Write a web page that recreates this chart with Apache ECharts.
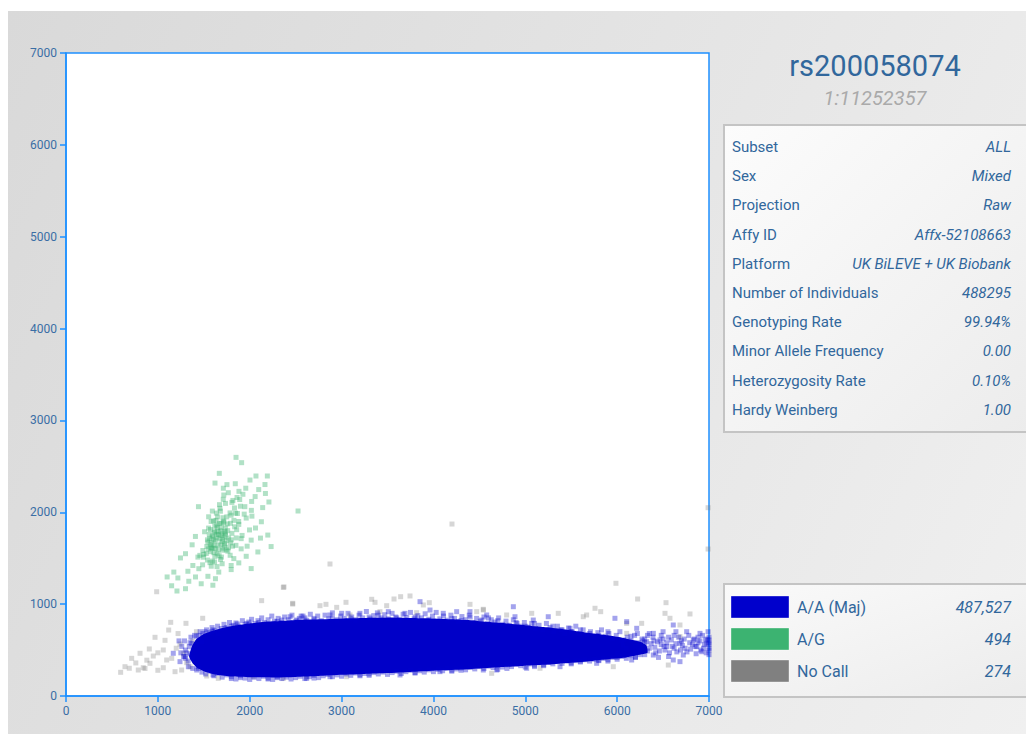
<!DOCTYPE html>
<html><head><meta charset="utf-8">
<script src="https://cdn.jsdelivr.net/npm/echarts@6/dist/echarts.min.js"></script>
<style>
html,body{margin:0;padding:0;background:#fff;width:1026px;height:734px;overflow:hidden}
#bg{position:absolute;left:8px;top:11px;width:1018px;height:723px;background:linear-gradient(115deg,#d9d9d9 0%,#e3e3e3 45%,#f0f0f0 100%)}
#chart{position:absolute;left:0;top:0;width:1026px;height:734px}
</style></head><body><div id="bg"></div><div id="chart"></div>
<script>
const snpId = 'rs200058074';
const snpPosition = '1:11252357';
const infoLabels = ['Subset','Sex','Projection','Affy ID','Platform','Number of Individuals','Genotyping Rate','Minor Allele Frequency','Heterozygosity Rate','Hardy Weinberg'];
const infoValues = ['ALL','Mixed','Raw','Affx-52108663','UK BiLEVE + UK Biobank','488295','99.94%','0.00','0.10%','1.00'];
const legendNames = ['A/A (Maj)','A/G','No Call'];
const legendCounts = ['487,527','494','274'];
const legendColors = ['#0000cc','#3cb371','#808080'];
const axisMin = 0, axisMax = 7000, axisStep = 1000;

// outline of the saturated A/A (Maj) cloud (x, y)
const aaCore = [[1340,430],[1370,540],[1420,620],[1500,675],[1600,710],[1700,740],[1850,770],[2000,790],[2200,810],[2400,820],[2550,830],[2800,835],[3000,845],[3250,850],[3500,855],[3750,850],[4000,845],[4200,835],[4400,825],[4600,805],[4800,790],[5000,770],[5200,750],[5400,730],[5600,700],[5750,680],[5900,660],[6050,635],[6150,615],[6250,590],[6320,550],
 [6330,470],[6200,440],[6100,420],[5950,405],[5800,390],[5600,370],[5400,355],[5200,340],[5000,330],[4750,315],[4500,300],[4250,285],[4000,275],[3750,262],[3500,250],[3250,240],[3000,230],[2750,218],[2500,208],[2250,202],[2000,204],[1800,212],[1650,228],[1530,258],[1440,300],[1380,355]];

// A/A (Maj) sparse points around the cloud
const aaPoints = [[1342,537],[1513,700],[1586,700],[1658,682],[1731,737],[1865,784],[1967,791],[2047,755],[2257,791],[2348,827],[2439,791],[2511,827],[1168,465],[1295,428],[1241,374],[1332,319],[1423,283],[1477,591],[1368,574],
 [2439,863],[2560,870],[2874,882],[3001,900],[3200,900],[3509,918],[3690,900],[3854,1027],[3963,936],[4107,900],[4253,918],[4398,918],[4580,882],[4525,827],
 [2620,192],[2874,210],[3636,229],[4071,265],[4543,283],
 [4870,972],[4888,863],[5087,827],[5250,863],[5487,737],[5976,846],[6104,809],[6213,737],[6394,682],[6611,773],[6757,700],[6902,682],[6829,610],[6920,482],[6720,446],[6611,392],[6394,446],[6249,501],[6158,392],[6067,555],[6539,537],[6684,574],[6975,574],[6466,610],[6321,591],[6866,537],[6684,374],[5777,356],[5378,319],[5015,302],[4689,283],
 [6200,480],[6250,560],[6300,620],[6350,520],[6400,600],[6420,470],[6480,560],[6520,500],[6560,640],[6600,540],[6650,480],[6700,600],[6740,520],[6780,660],[6820,560],[6860,460],[6900,600],[6940,520],[6300,450],[6450,420],[6350,680],[6150,650],[6100,520],[6050,600],[6000,470],
 [5000,760],[5100,790],[5300,760],[5400,720],[5500,700],[5600,720],[5700,680],[5800,660],[5900,700],[4900,800],[4700,820],[4600,850],[4400,860],
 [5600,380],[5800,390],[6000,420],[5200,330],[4800,300],[4300,280],[3300,240],[2300,200],[1900,200],[1600,230],
 [1600,720],[1800,760],[2000,780],[2100,800],[2300,810],[2700,830],[2900,850],[3100,840],[3300,860],[3600,850],[3800,860],[4200,840],[4300,820],[2600,850],[3400,880],[1450,660],[1350,580],[1300,500],[1280,430],
 [1800,190],[2200,185],[2700,195],[3200,220],[3800,250],[4200,270],[4700,290],[5100,320],[5500,350],[5900,380],[6200,420],
 [7000,450],[7000,520],[7000,580],[7000,640],[6990,700],[6960,610],[6880,640],[6640,700],[6500,700],[6560,430],
 [1420,650],[1460,700],[1490,680],[1530,720],[1560,690],[1590,745],[1620,710],[1650,760],[1690,735],[1720,780],[1750,745],[1780,800],[1820,770],[1850,795],[1880,760],[1920,820],[1950,780],[1990,805],[2020,835],[2060,790],[2090,820],[2130,850],[2160,800],[2200,830],[2240,870],[2270,815],[2310,845],[2350,800],[2380,860],[2420,830],[2460,880],[2500,815],[2540,845],[2580,870],[2620,825],[2660,890],[2700,845],[2740,870],[2780,820],[2820,880],[2860,840],[2900,905],[2950,830],[2990,870],[3030,845],[3070,900],[3110,860],[3150,830],[3190,880],[3230,850],[3270,920],[3310,840],[3350,875],[3390,905],[3430,850],[3470,885],[3510,840],[3550,900],[3590,860],[3630,830],[3670,890],[3710,855],[3750,910],[3790,840],[3830,875],[3870,850],[3910,895],[3950,835],[3990,870],[4030,910],[4070,840],[4110,870],[4150,825],[4190,880],[4230,845],[4270,810],[4310,865],[4350,830],[4390,880],[4430,800],[4470,845],[4510,815],[4550,860],[4590,790],[4630,830],[4670,805],[4710,850],[4750,780],[4790,815],[4830,770],[4870,830],[4910,790],[4950,760],[4990,800],[5030,750],[5070,790],[5110,735],[5150,770],[5190,720],[5230,790],[5270,745],[5310,700],[5350,760],[5390,720],[5430,680],[5470,740],[5510,700],[5550,760],[5590,680],[5630,720],[5670,660],[5710,700],[5750,640],[5790,690],[5830,720],[5870,650],[5910,680],[5950,620],[5990,660],[6030,700],[6070,610],[6110,640],[6150,600],[6190,660],[6230,580],[6270,620],
 [1440,300],[1480,260],[1520,240],[1570,270],[1610,220],[1650,245],[1700,205],[1750,230],[1800,210],[1850,185],[1900,220],[1950,195],[2000,180],[2050,205],[2100,190],[2150,215],[2200,195],[2250,180],[2300,210],[2350,190],[2400,205],[2450,185],[2500,200],[2550,215],[2600,190],[2650,210],[2700,225],[2750,200],[2800,220],[2850,235],[2900,210],[2950,230],[3000,215],[3050,240],[3100,225],[3150,250],[3200,230],[3250,245],[3300,225],[3350,255],[3400,240],[3450,260],[3500,235],[3550,255],[3600,270],[3650,245],[3700,265],[3750,280],[3800,255],[3850,275],[3900,260],[3950,285],[4000,265],[4050,290],[4100,275],[4150,300],[4200,280],[4250,295],[4300,305],[4350,285],[4400,310],[4450,295],[4500,320],[4550,300],[4600,325],[4650,310],[4700,330],[4750,315],[4800,340],[4850,320],[4900,345],[4950,330],[5000,315],[5050,350],[5100,335],[5150,360],[5200,340],[5250,365],[5300,350],[5350,375],[5400,355],[5450,380],[5500,360],[5550,385],[5600,370],[5650,395],[5700,380],[5750,400],[5800,385],[5850,410],[5900,395],[5950,420],[6000,400],[6050,430],[6100,410],[6150,440],[6200,425],[6250,450],
 [6260,520],[6280,600],[6330,490],[6370,570],[6390,640],[6410,530],[6440,590],[6460,490],[6500,620],[6510,540],[6540,580],[6570,470],[6590,610],[6620,520],[6640,570],[6670,640],[6690,500],[6710,550],[6730,620],[6760,480],[6790,580],[6800,510],[6840,620],[6850,540],[6880,580],[6910,500],[6930,660],[6950,560],[6970,470],[6980,620],[7000,500],[7000,560],[7000,610],[6620,660],[6480,660],[6330,660],[6220,680],[6200,540],[6240,500],[6300,580],
 [1260,540],[1290,600],[1310,470],[1330,380],[1360,640],[1380,300],[1400,660],[1420,560],[1440,320],[1350,460],[1300,410],[1250,470],[1230,600],[1380,420]];

// A/G points
const agPoints = [[1851,2598],[1912,2540],[1669,2424],[2068,2395],[2192,2395],
 [2003,2351],[2166,2302],[1622,2318],[1713,2262],[1752,2301],[1883,2228],[1926,2196],[2098,2247],[2171,2205],[2021,2118],[2059,2171],[1718,2188],[1817,2129],[1862,2161],[1671,2083],[1736,2097],[1834,2047],[1899,2066],[2018,2021],[2141,2051],[2209,2112],[1442,2061],[1637,1991],[1681,2012],[1797,1968],[1846,1991],[1962,1937],[2024,1958],[2127,1897],[1553,1951],[1671,1879],[1718,1903],[1836,1842],[1881,1868],[1998,1808],[2063,1829],[2197,1752],[1509,1788],[1573,1812],[1689,1749],[1736,1776],[1853,1721],[1917,1748],[2016,1697],[2117,1719],[2233,1627],[1409,1737],[1545,1676],[1609,1703],[1725,1641],[1791,1667],[1907,1602],[1972,1631],[2089,1568],[1373,1646],[1490,1584],[1581,1612],[1645,1548],[1762,1577],[1827,1496],[1962,1521],[1301,1549],[1436,1512],[1500,1541],[1617,1459],[1682,1487],[1798,1421],[1881,1449],[2016,1387],[1246,1503],[1381,1421],[1446,1386],[1581,1413],[1663,1349],[1798,1376],[1174,1349],[1327,1358],[1410,1296],[1545,1303],[1627,1277],[1101,1296],[1218,1285],[1472,1222],[1337,1249],[1599,1206],[1301,1168],
 [1563,1713],[1597,1744],[1648,1833],[1674,1711],[1727,1792],[1755,1873],[1612,1641],[1707,1588],[1574,1571],[1667,1527],[1746,1693],[1806,1771],[1533,1628],[1496,1511],[1634,1912],[1709,1941],[1786,1993],[1594,1469],[1686,1652],[1716,1889],[1828,1912],[1866,1987],[1552,1828],[1627,1607],[1768,1614],[1654,1789],[1587,1671],[1703,1709],[1641,1722],[1737,1751],[1606,1907],[1527,1552],[1806,2108],[1891,2139],[1767,2213],[1676,2043],[1858,1811],[1947,2061],[1487,1428],[1567,1452],[1644,1409],[1692,1512],[1457,1531],[1787,1532],[1813,1631],[1907,1713],[1593,2013],[1712,2141],[1843,2311],[1957,2262],
 [1620,1780],[1690,1830],[1580,1620],[1730,1660],[1660,1590],[1540,1700],[1770,1720],[1640,1860],[1700,1770],[1610,1560],
 [1590,1730],[1615,1795],[1660,1755],[1700,1680],[1735,1830],[1570,1650],[1625,1690],[1690,1880],[1655,1640],[1745,1590],[1600,1610],[1720,1730],[1680,1800],[1560,1760],[1640,1760],[1760,1800],[1790,1880],[1620,1850],[1580,1900],[1710,1610],[1550,1600],[1650,1950],[1750,1950],[1800,1700],[1540,1480],[1620,1520],[1700,1440],[1850,1640],[1880,1900],[1940,1980],
 [2526,2014],[1208,1143],[1150,1200]];

// No Call points
const noCallPoints = [[987,1135],[2130,1038],[2366,1183],[2468,1001],[1140,802],[1306,791],[1488,846],[1118,718],[969,639],[1078,606],[1241,566],[907,512],[806,465],[950,435],[1059,501],[1151,410],[715,410],[642,319],[595,258],[689,302],[787,283],[841,308],[914,356],[1059,308],[1096,392],[1187,265],[1259,283],[1314,363],[1350,319],[1532,218],[1658,192],[2039,210],[2366,192],
 [2468,1009],[2765,983],[2830,998],[2947,965],[3048,1020],[3328,1053],[3364,1020],[3491,983],[3571,1056],[3643,1081],[3745,1089],[3817,907],[3890,991],[3955,1016],[4398,998],[4471,918],[4543,944],[3418,918],[3092,882],[2620,210],[3056,210],
 [5987,1227],[6223,1056],[6532,1016],[6521,900],[6793,893],[4543,936],[4797,882],[5070,900],[5359,900],[5631,863],[5759,955],[5821,918],[5668,882],[6104,791],[6267,791],[6684,773],[6575,846],[4634,247],[5160,302],[5958,319],[6557,337],[5904,610],[6104,682],[6684,646],
 [4202,1872],[2874,1437],[2373,1187],[6990,2050],[6990,1600],
 [760,360],[880,390],[1000,470],[1200,520],[1280,460],[1380,600],[1420,700],[1220,680],[860,300],[1000,280]];

const chart = echarts.init(document.getElementById('chart'), null, {renderer:'svg'});
const textColor = '#31679c';
const font = 'Roboto, "Noto Sans", sans-serif';
const rowTop = 147, rowStep = 29.2;
const graphics = [];
graphics.push({type:'text', x:875, y:66, style:{text:snpId, align:'center', verticalAlign:'middle', font:'400 29px ' + font, fill:textColor}});
graphics.push({type:'text', x:875, y:98, style:{text:snpPosition, align:'center', verticalAlign:'middle', font:'italic 400 20px ' + font, fill:'#aaaaaa'}});
graphics.push({type:'rect', shape:{x:724, y:125, width:310, height:307}, style:{fill:new echarts.graphic.LinearGradient(0,0,1,1,[{offset:0,color:'#fcfcfc'},{offset:1,color:'#ececec'}]), stroke:'#c4c4c4', lineWidth:2}});
infoLabels.forEach((l,i)=>{
  graphics.push({type:'text', x:732, y:rowTop+i*rowStep, style:{text:l, align:'left', verticalAlign:'middle', font:'400 15px ' + font, fill:textColor}});
  graphics.push({type:'text', x:1011, y:rowTop+i*rowStep, style:{text:infoValues[i], align:'right', verticalAlign:'middle', font:'italic 400 15px ' + font, fill:textColor}});
});
graphics.push({type:'rect', shape:{x:724, y:584, width:310, height:113}, style:{fill:new echarts.graphic.LinearGradient(0,0,1,1,[{offset:0,color:'#fafafa'},{offset:1,color:'#ececec'}]), stroke:'#c4c4c4', lineWidth:2}});
const legTop = 607, legStep = 32;
legendNames.forEach((n,i)=>{
  const cy = legTop + i*legStep;
  graphics.push({type:'rect', shape:{x:731, y:cy-11, width:58, height:22}, style:{fill:legendColors[i], stroke:'rgba(255,255,255,0.35)', lineWidth:1}});
  graphics.push({type:'text', x:797, y:cy, style:{text:n, align:'left', verticalAlign:'middle', font:'400 16px ' + font, fill:textColor}});
  graphics.push({type:'text', x:1011, y:cy, style:{text:legendCounts[i], align:'right', verticalAlign:'middle', font:'italic 400 16px ' + font, fill:textColor}});
});

const axisCommon = {
  type:'value', min:axisMin, max:axisMax, interval:axisStep,
  axisLine:{show:true, onZero:false, lineStyle:{color:'#1e90ff', width:1.5}},
  axisTick:{show:true, length:6, lineStyle:{color:'#1e90ff', width:1.5}},
  axisLabel:{color:'#3a6ea5', fontSize:12, fontFamily:font, margin:9, formatter:v=>String(v)},
  splitLine:{show:false}
};

chart.setOption({
  animation:false,
  backgroundColor:'transparent',
  grid:{left:66, top:53, width:643, height:643, show:true, backgroundColor:'#ffffff', borderColor:'#1e90ff', borderWidth:1.5},
  xAxis:Object.assign({}, axisCommon),
  yAxis:Object.assign({}, axisCommon),
  graphic:graphics,
  series:[
    {name:'No Call', type:'scatter', data:noCallPoints, symbol:'rect', symbolSize:5, itemStyle:{color:'rgba(128,128,128,0.4)'}, z:2, silent:true},
    {name:'A/A (Maj) core', type:'custom', data:[aaCore[0]], z:3, silent:true,
      renderItem:(params, api)=>{
        const pts = aaCore.map(p=>api.coord(p));
        return {type:'polygon', shape:{points:pts, smooth:0.15}, style:{fill:'#0000c8'}};
      }},
    {name:'A/A (Maj)', type:'scatter', data:aaPoints, symbol:'rect', symbolSize:5, itemStyle:{color:'rgba(0,0,205,0.45)'}, z:4, silent:true},
    {name:'A/G', type:'scatter', data:agPoints, symbol:'rect', symbolSize:5, itemStyle:{color:'rgba(60,179,113,0.5)'}, z:5, silent:true}
  ]
});
</script></body></html>
